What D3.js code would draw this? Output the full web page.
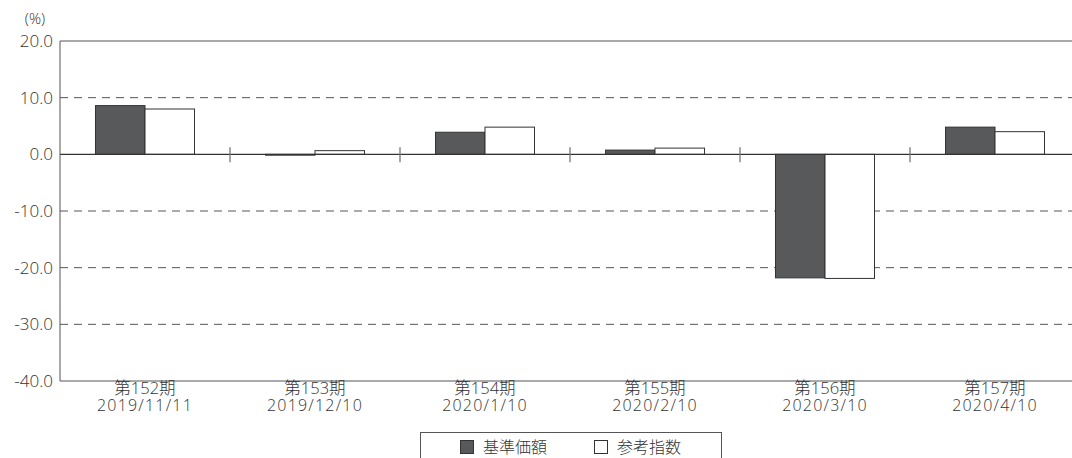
<!DOCTYPE html>
<html><head><meta charset="utf-8">
<script src="https://cdn.jsdelivr.net/npm/d3@7"></script>
<style>
body{margin:0;background:#fff;}
text{font-family:"Open Sans","Noto Sans CJK JP",sans-serif;font-weight:300;fill:#333;}
</style></head>
<body><svg id="c" width="1072" height="458"></svg>
<script>
const periods = ["第152期","第153期","第154期","第155期","第156期","第157期"];
const dates = ["2019/11/11","2019/12/10","2020/1/10","2020/2/10","2020/3/10","2020/4/10"];
const seriesNames = ["基準価額","参考指数"];
const navValues = [8.6, -0.15, 3.9, 0.75, -21.8, 4.8];
const indexValues = [8.0, 0.65, 4.8, 1.1, -21.9, 4.0];
const yTicks = [20,10,0,-10,-20,-30,-40];

const svg = d3.select("#c");
const L=60, R=1080, T=41, B=381;
const x = d3.scaleBand().domain(periods).range([L,R]).paddingInner(0).paddingOuter(0);
const y = d3.scaleLinear().domain([-40,20]).range([B,T]);

// gridlines dashed
svg.append("g").selectAll("line").data(yTicks.filter(d=>d!==0 && d!==20 && d!==-40)).join("line")
  .attr("x1",L).attr("x2",1072).attr("y1",d=>y(d)).attr("y2",d=>y(d))
  .attr("stroke","#555").attr("stroke-width",1).attr("stroke-dasharray","8,6");
// top line
svg.append("line").attr("x1",L).attr("x2",1072).attr("y1",y(20)).attr("y2",y(20)).attr("stroke","#555");

const colors=["#58595b","#ffffff"];
const data=[navValues,indexValues];
const bw = 49.5;
data.forEach((vals,si)=>{
  svg.append("g").selectAll("rect").data(vals).join("rect")
    .attr("x",(d,i)=>x(periods[i])+x.bandwidth()/2 - bw + si*bw)
    .attr("width",bw)
    .attr("y",d=>y(Math.max(0,d)))
    .attr("height",d=>Math.abs(y(d)-y(0)))
    .attr("fill",colors[si]).attr("stroke","#333").attr("stroke-width",1);
});

// zero line
svg.append("line").attr("x1",L).attr("x2",1072).attr("y1",y(0)).attr("y2",y(0)).attr("stroke","#333").attr("stroke-width",1.3);
// separators
svg.append("g").selectAll("line").data(periods.slice(1)).join("line")
  .attr("x1",d=>x(d)).attr("x2",d=>x(d)).attr("y1",y(0)-7).attr("y2",y(0)+8)
  .attr("stroke","#777").attr("stroke-width",1.3);

// axes lines
svg.append("line").attr("x1",L).attr("x2",L).attr("y1",T).attr("y2",B).attr("stroke","#555");
svg.append("line").attr("x1",L).attr("x2",1072).attr("y1",B).attr("y2",B).attr("stroke","#555");

// y labels
svg.append("g").selectAll("text").data(yTicks).join("text")
  .attr("x",53).attr("y",d=>y(d)).attr("dy","0.36em").attr("text-anchor","end")
  .attr("font-size",17).text(d=>d.toFixed(1));
svg.append("text").attr("x",35).attr("y",19).attr("dy","0.36em").attr("text-anchor","middle").attr("font-size",15).text("(%)");

// x labels
const xl = svg.append("g").selectAll("g").data(periods).join("g");
xl.append("text").attr("x",d=>x(d)+x.bandwidth()/2).attr("y",388.5).attr("dy","0.36em").attr("text-anchor","middle").attr("font-size",16.5).text(d=>d);
xl.append("text").attr("x",d=>x(d)+x.bandwidth()/2).attr("y",405).attr("dy","0.36em").attr("text-anchor","middle").attr("font-size",16).attr("letter-spacing",1.2).text((d,i)=>dates[i]);

// legend
svg.append("rect").attr("x",420.5).attr("y",432.5).attr("width",301).attr("height",40).attr("fill","#fff").attr("stroke","#555");
const lx=[460,594];
seriesNames.forEach((n,i)=>{
  svg.append("rect").attr("x",lx[i]+0.5).attr("y",440.5).attr("width",13).attr("height",13).attr("fill",colors[i]).attr("stroke","#333");
  svg.append("text").attr("x",lx[i]+23).attr("y",447).attr("dy","0.36em").attr("font-size",16).text(n);
});
</script></body></html>
